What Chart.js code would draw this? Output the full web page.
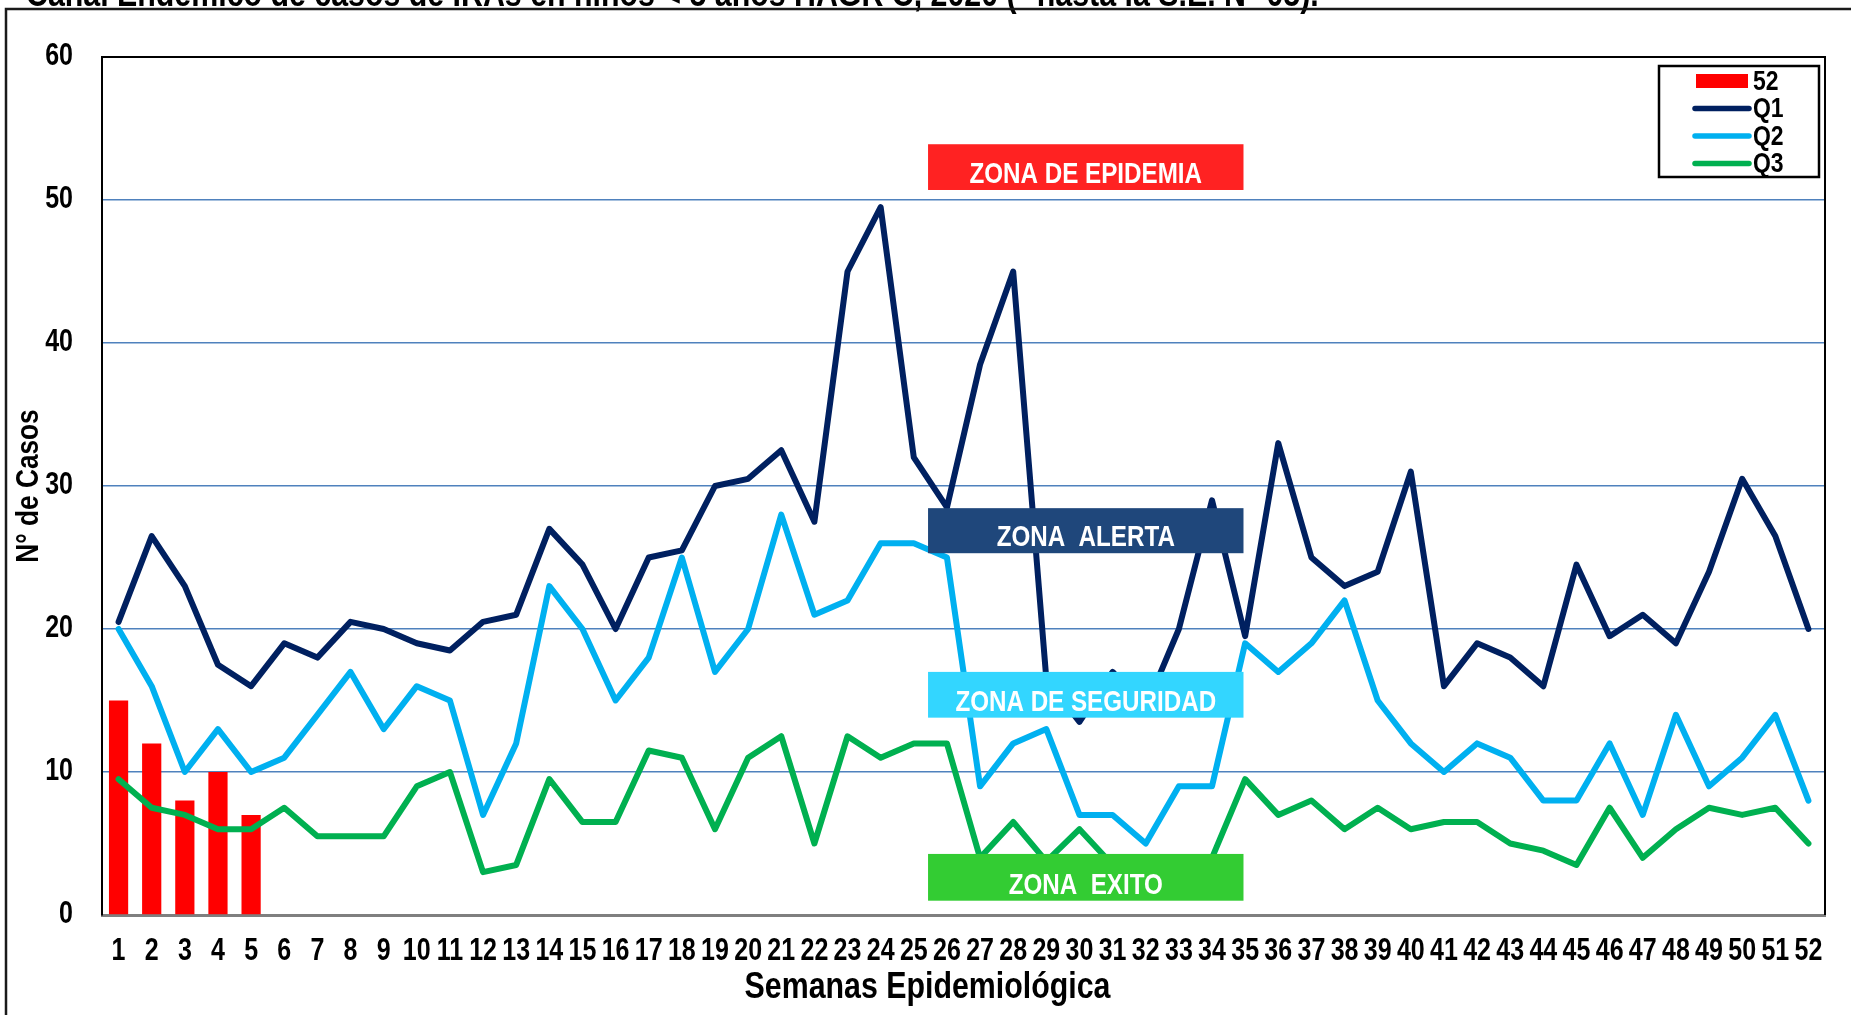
<!DOCTYPE html>
<html lang="es">
<head>
<meta charset="utf-8">
<title>Canal Endémico IRAs</title>
<script src="https://cdn.jsdelivr.net/npm/chart.js@4.4.1/dist/chart.umd.min.js"></script>
<style>
  html, body { margin: 0; padding: 0; background: #fff; overflow: hidden; }
  canvas { display: block; }
</style>
</head>
<body>
<canvas id="canalChart" width="1851" height="1015"></canvas>
<script>
// semanas epidemiológicas (eje x)
const semanas = ['1','2','3','4','5','6','7','8','9','10','11','12','13','14','15','16','17','18','19','20',
	'21','22','23','24','25','26','27','28','29','30','31','32','33','34','35','36','37','38','39','40',
	'41','42','43','44','45','46','47','48','49','50','51','52'];

// casos 2020 (barras, serie "52")
const casos2020 = [15, 12, 8, 10, 7];

// cuartiles del canal endémico
const q1 = [20.5, 26.5, 23, 17.5, 16, 19, 18, 20.5, 20, 19,
	18.5, 20.5, 21, 27, 24.5, 20, 25, 25.5, 30, 30.5,
	32.5, 27.5, 45, 49.5, 32, 28.5, 38.5, 45, 16.5, 13.5,
	17, 14.5, 20, 29, 19.5, 33, 25, 23, 24, 31,
	16, 19, 18, 16, 24.5, 19.5, 21, 19, 24, 30.5,
	26.5, 20];
const q2 = [20, 16, 10, 13, 10, 11, 14, 17, 13, 16,
	15, 7, 12, 23, 20, 15, 18, 25, 17, 20,
	28, 21, 22, 26, 26, 25, 9, 12, 13, 7,
	7, 5, 9, 9, 19, 17, 19, 22, 15, 12,
	10, 12, 11, 8, 8, 12, 7, 14, 9, 11,
	14, 8];
const q3 = [9.5, 7.5, 7, 6, 6, 7.5, 5.5, 5.5, 5.5, 9,
	10, 3, 3.5, 9.5, 6.5, 6.5, 11.5, 11, 6, 11,
	12.5, 5, 12.5, 11, 12, 12, 4, 6.5, 3.75, 6,
	3.5, 2.5, 3, 4, 9.5, 7, 8, 6, 7.5, 6,
	6.5, 6.5, 5, 4.5, 3.5, 7.5, 4, 6, 7.5, 7,
	7.5, 5];

// marcas del eje y
const yTicks = [0, 10, 20, 30, 40, 50, 60];

const titulo = 'Canal Endémico de casos de IRAs en niños < 5 años HAGR C, 2020 (* hasta la S.E. N° 05).';

// rótulos de zona (extensión en unidades de los ejes)
const zonas = [
	{ texto: 'ZONA DE EPIDEMIA', color: '#FF2222', x0: 24.43, x1: 33.95, y0: 50.7, y1: 53.9 },
	{ texto: 'ZONA  ALERTA', color: '#1F477B', x0: 24.43, x1: 33.95, y0: 25.3, y1: 28.45 },
	{ texto: 'ZONA DE SEGURIDAD', color: '#33D6FF', x0: 24.43, x1: 33.95, y0: 13.8, y1: 17.0 },
	{ texto: 'ZONA  EXITO', color: '#33CC33', x0: 24.43, x1: 33.95, y0: 1.0, y1: 4.27 }
];

// no hay Arial Narrow: Liberation Sans comprimida a lo ancho
const FONT = '"Liberation Sans", Arial, sans-serif';
const ANGOSTO = 0.82;

function textoAngosto(ctx, texto, x, y, size, align, baseline, rot) {
	ctx.save();
	ctx.translate(x, y);
	if (rot) ctx.rotate(rot);
	ctx.scale(ANGOSTO, 1);
	ctx.font = 'bold ' + size + 'px ' + FONT;
	ctx.textAlign = align;
	ctx.textBaseline = baseline;
	ctx.fillText(texto, 0, 0);
	ctx.restore();
}

// marco, título, etiquetas de ejes, zonas y leyenda
const marcoPlugin = {
	id: 'marco',
	beforeDraw(chart) {
		const ctx = chart.ctx;
		ctx.save();
		ctx.fillStyle = '#fff';
		ctx.fillRect(0, 0, chart.width, chart.height);
		ctx.fillStyle = '#000';
		textoAngosto(ctx, titulo, 26, 6, 37, 'left', 'alphabetic');
		ctx.strokeStyle = '#1a1a1a';
		ctx.lineWidth = 2.5;
		ctx.beginPath();
		ctx.moveTo(6, chart.height + 5);
		ctx.lineTo(6, 9);
		ctx.lineTo(chart.width + 5, 9);
		ctx.stroke();
		ctx.restore();
	},
	afterDatasetsDraw(chart) {
		const ctx = chart.ctx;
		const x = chart.scales.x, y = chart.scales.y;
		ctx.save();
		zonas.forEach(z => {
			const left = x.getPixelForValue(z.x0);
			const right = x.getPixelForValue(z.x1);
			const top = y.getPixelForValue(z.y1);
			const bottom = y.getPixelForValue(z.y0);
			ctx.fillStyle = z.color;
			ctx.fillRect(left, top, right - left, bottom - top);
			ctx.fillStyle = '#fff';
			textoAngosto(ctx, z.texto, (left + right) / 2, bottom - 7, 29.5, 'center', 'alphabetic');
		});
		ctx.restore();
	},
	afterDraw(chart) {
		const ctx = chart.ctx;
		const a = chart.chartArea;
		const xs = chart.scales.x, ys = chart.scales.y;
		ctx.save();
		// borde superior y derecho del área de trazado
		ctx.strokeStyle = '#000';
		ctx.lineWidth = 2;
		ctx.beginPath();
		ctx.moveTo(a.left, a.top);
		ctx.lineTo(a.right, a.top);
		ctx.lineTo(a.right, a.bottom);
		ctx.stroke();

		ctx.fillStyle = '#000';
		// etiquetas de los ejes
		yTicks.forEach(v => {
			textoAngosto(ctx, String(v), a.left - 29, ys.getPixelForValue(v), 30.5, 'right', 'middle');
		});
		semanas.forEach((s, i) => {
			textoAngosto(ctx, s, xs.getPixelForValue(i), a.bottom + 37, 30.5, 'center', 'middle');
		});
		// títulos de los ejes
		textoAngosto(ctx, 'Semanas Epidemiológica', chart.width / 2 + 2, 988, 37, 'center', 'middle');
		textoAngosto(ctx, 'N° de Casos', 29, (a.top + a.bottom) / 2, 32, 'center', 'middle', -Math.PI / 2);

		// leyenda
		const lx = 1659, ly = 66, lw = 160, lh = 111;
		ctx.fillStyle = '#fff';
		ctx.fillRect(lx, ly, lw, lh);
		ctx.strokeStyle = '#000';
		ctx.lineWidth = 2.5;
		ctx.strokeRect(lx, ly, lw, lh);
		chart.data.datasets.forEach((ds, i) => {
			const cy = ly + 15 + i * 27.5;
			if (ds.type === 'bar') {
				ctx.fillStyle = ds.backgroundColor;
				ctx.fillRect(lx + 37, cy - 7, 52, 14);
			} else {
				ctx.strokeStyle = ds.borderColor;
				ctx.lineWidth = 5.5;
				ctx.lineCap = 'round';
				ctx.beginPath();
				ctx.moveTo(lx + 36, cy);
				ctx.lineTo(lx + 90, cy);
				ctx.stroke();
			}
			ctx.fillStyle = '#000';
			textoAngosto(ctx, ds.label, lx + 94, cy + 1, 28, 'left', 'middle');
		});
		ctx.restore();
	}
};

const ctx = document.getElementById('canalChart').getContext('2d');
new Chart(ctx, {
	data: {
		labels: semanas,
		datasets: [
			{
				type: 'bar',
				label: '52',
				data: casos2020,
				backgroundColor: '#FF0000',
				barPercentage: 0.58,
				categoryPercentage: 1.0,
				order: 4
			},
			{
				type: 'line',
				label: 'Q1',
				data: q1,
				borderColor: '#002060',
				borderWidth: 6,
				pointRadius: 0,
				borderJoinStyle: 'round',
				borderCapStyle: 'round',
				tension: 0,
				order: 3
			},
			{
				type: 'line',
				label: 'Q2',
				data: q2,
				borderColor: '#00B0F0',
				borderWidth: 6,
				pointRadius: 0,
				borderJoinStyle: 'round',
				borderCapStyle: 'round',
				tension: 0,
				order: 2
			},
			{
				type: 'line',
				label: 'Q3',
				data: q3,
				borderColor: '#00B050',
				borderWidth: 6,
				pointRadius: 0,
				borderJoinStyle: 'round',
				borderCapStyle: 'round',
				tension: 0,
				order: 1
			}
		]
	},
	options: {
		responsive: false,
		animation: false,
		layout: {
			padding: { left: 0, top: 57, right: 26, bottom: 0 }
		},
		plugins: {
			legend: { display: false },
			tooltip: { enabled: false }
		},
		scales: {
			x: {
				type: 'category',
				offset: true,
				grid: { display: false, drawTicks: false },
				border: { color: '#7f7f7f', width: 3 },
				ticks: { display: false },
				afterFit(scale) { scale.height = 100; }
			},
			y: {
				min: 0,
				max: 60,
				afterBuildTicks(scale) { scale.ticks = yTicks.map(v => ({ value: v })); },
				grid: { color: 'rgb(79,129,189)', lineWidth: 1.5, drawTicks: false },
				border: { color: '#000', width: 2 },
				ticks: { display: false },
				afterFit(scale) { scale.width = 102; }
			}
		}
	},
	plugins: [marcoPlugin]
});
</script>
</body>
</html>
